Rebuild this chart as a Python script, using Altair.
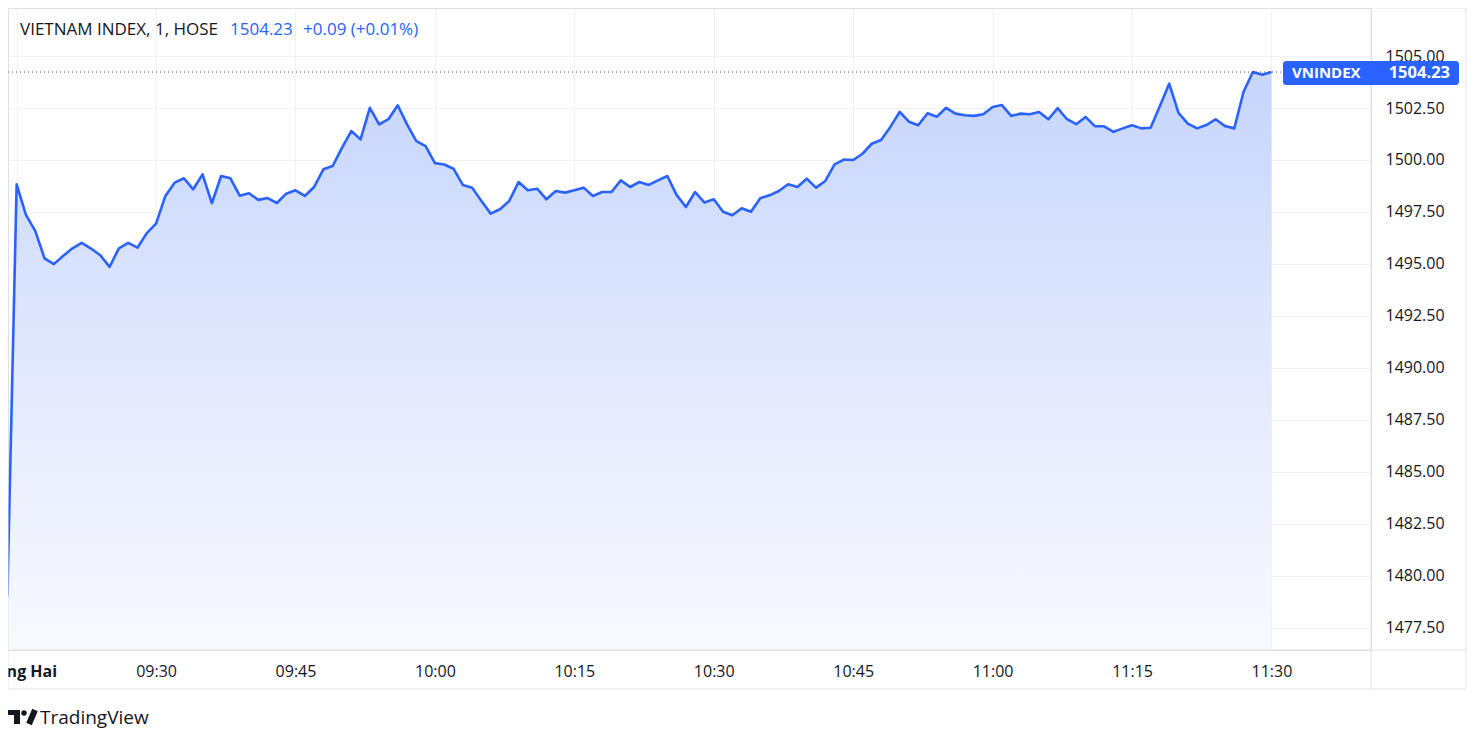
import json
import altair as alt
import pandas as pd

FONT = "Open Sans"
TEXT_COLOR = "#131722"
BLUE = "#2962ff"

# ---------------- data ----------------
start_minute = 9 * 60 + 14  # first 1-minute bar (09:14, pre-open print)
prices = [
    1479.00,
    1498.83, 1497.36, 1496.59, 1495.27, 1494.99, 1495.38, 1495.75, 1496.01, 1495.74, 1495.42,  # 09:15-09:24
    1494.86, 1495.75, 1496.01, 1495.78, 1496.48, 1496.94, 1498.27, 1498.91, 1499.12, 1498.59,  # 09:25-09:34
    1499.31, 1497.92, 1499.23, 1499.12, 1498.28, 1498.40, 1498.08, 1498.17, 1497.93, 1498.38,  # 09:35-09:44
    1498.54, 1498.27, 1498.70, 1499.55, 1499.71, 1500.58, 1501.39, 1500.99, 1502.51, 1501.71,  # 09:45-09:54
    1501.96, 1502.63, 1501.71, 1500.91, 1500.67, 1499.85, 1499.78, 1499.58, 1498.80, 1498.67,  # 09:55-10:04
    1498.03, 1497.42, 1497.63, 1498.03, 1498.94, 1498.54, 1498.62, 1498.11, 1498.51, 1498.43,  # 10:05-10:14
    1498.54, 1498.67, 1498.27, 1498.46, 1498.46, 1499.02, 1498.70, 1498.94, 1498.80, 1499.02,  # 10:15-10:24
    1499.23, 1498.32, 1497.74, 1498.46, 1497.95, 1498.11, 1497.51, 1497.34, 1497.68, 1497.51,  # 10:25-10:34
    1498.16, 1498.30, 1498.51, 1498.83, 1498.70, 1499.10, 1498.67, 1498.99, 1499.79, 1500.02,  # 10:35-10:44
    1500.00, 1500.30, 1500.78, 1500.96, 1501.59, 1502.31, 1501.84, 1501.67, 1502.25, 1502.08,  # 10:45-10:54
    1502.51, 1502.23, 1502.15, 1502.12, 1502.20, 1502.55, 1502.64, 1502.12, 1502.23, 1502.20,  # 10:55-11:04
    1502.31, 1501.96, 1502.49, 1501.96, 1501.72, 1502.07, 1501.63, 1501.62, 1501.35, 1501.52,  # 11:05-11:14
    1501.67, 1501.52, 1501.55, 1502.60, 1503.67, 1502.27, 1501.75, 1501.52, 1501.68, 1501.96,  # 11:15-11:24
    1501.63, 1501.52, 1503.28, 1504.23, 1504.10, 1504.23,                                      # 11:25-11:30
]
minutes = [start_minute + i for i in range(len(prices))]

tick_minutes = [555, 570, 585, 600, 615, 630, 645, 660, 675, 690]
tick_labels = ["Tháng Hai", "09:30", "09:45", "10:00", "10:15", "10:30", "10:45", "11:00", "11:15", "11:30"]
y_ticks = [1477.5, 1480.0, 1482.5, 1485.0, 1487.5, 1490.0, 1492.5, 1495.0, 1497.5, 1500.0, 1502.5, 1505.0]

header_title = "VIETNAM INDEX, 1, HOSE"
header_price = "1504.23"
header_change = "+0.09 (+0.01%)"
tag_name = "VNINDEX"
last_price = 1504.23
brand = "TradingView"

# ---------------- layout ----------------
W, H = 1363, 642
x_domain = [554.07, 700.71]
y_domain = [1476.43, 1507.31]

df = pd.DataFrame({"m": minutes, "v": prices})
last_df = pd.DataFrame({"v": [last_price], "name": [tag_name], "lbl": [f"{last_price:.2f}"]})
one = pd.DataFrame({"a": [0]})

label_expr = (
    json.dumps(tick_labels, ensure_ascii=False)
    + "[indexof(" + json.dumps(tick_minutes) + ", datum.value)]"
)

x_scale = alt.Scale(domain=x_domain, nice=False, zero=False)
y_scale = alt.Scale(domain=y_domain, nice=False, zero=False)

x_axis = alt.Axis(
    values=tick_minutes, labelExpr=label_expr, grid=True, gridColor="#f0f1f4",
    domain=False, ticks=False, tickSize=0, labelPadding=21, labelBaseline="middle",
    labelFont=FONT, labelFontSize=16, labelColor=TEXT_COLOR, labelFlush=False,
    labelOverlap=False, labelBound=False, title=None,
    labelFontWeight={"condition": {"test": "datum.value == 555", "value": "bold"}, "value": "normal"},
)
y_axis = alt.Axis(
    orient="right", values=y_ticks, format=".2f", grid=True, gridColor="#f0f1f4",
    domain=False, ticks=False, tickSize=0, labelPadding=14, labelAlign="left",
    labelBaseline="middle", labelFont=FONT, labelFontSize=16, labelColor=TEXT_COLOR,
    labelOverlap=False, title=None, labelFlush=False,
)

base = alt.Chart(df)

# area baseline = bottom of the price scale
area = base.transform_calculate(
    base=str(y_domain[0])
).mark_area(
    clip=True,
    opacity=1,
    line=False,
    fill=alt.Gradient(
        gradient="linear", x1=0, x2=0, y1=0, y2=1,
        stops=[
            alt.GradientStop(color="#c6d5fd", offset=0),
            alt.GradientStop(color="#dfe7fd", offset=0.45),
            alt.GradientStop(color="#f9faff", offset=1),
        ],
    ),
).encode(
    x=alt.X("m:Q", scale=x_scale, axis=x_axis),
    y=alt.Y("v:Q", scale=y_scale, axis=y_axis, stack=None),
    y2=alt.Y2("base:Q"),
)

line = base.mark_line(clip=True, color=BLUE, strokeWidth=2.6, strokeJoin="round").encode(
    x=alt.X("m:Q", scale=x_scale),
    y=alt.Y("v:Q", scale=y_scale),
)

price_line = alt.Chart(last_df).mark_rule(color="#3b4f8a", strokeDash=[1, 3], strokeWidth=1).encode(
    y=alt.Y("v:Q", scale=y_scale),
    x=alt.value(0),
    x2=alt.value(1275),
)

tag_rect = alt.Chart(last_df).mark_rect(color=BLUE, cornerRadius=3, yOffset=-11, y2Offset=13).encode(
    y=alt.Y("v:Q", scale=y_scale),
    y2=alt.Y2("v:Q"),
    x=alt.value(1275),
    x2=alt.value(1451),
)
tag_name_txt = alt.Chart(last_df).mark_text(
    align="left", baseline="middle", font=FONT, fontSize=15, fontWeight="bold", color="white", dy=1
).encode(y=alt.Y("v:Q", scale=y_scale), x=alt.value(1284), text="name:N")
tag_val_txt = alt.Chart(last_df).mark_text(
    align="right", baseline="middle", font=FONT, fontSize=16.5, fontWeight="bold", color="white", dy=1
).encode(y=alt.Y("v:Q", scale=y_scale), x=alt.value(1442), text="lbl:N")

frame = alt.Chart(one).mark_rect(fillOpacity=0, stroke="#e0e3eb", strokeWidth=1).encode(
    x=alt.value(0), x2=alt.value(1458), y=alt.value(0), y2=alt.value(681)
)
divider_v = alt.Chart(one).mark_rule(color="#e0e3eb").encode(
    x=alt.value(W), y=alt.value(0), y2=alt.value(681)
)
divider_h = alt.Chart(one).mark_rule(color="#e0e3eb").encode(
    y=alt.value(H), x=alt.value(0), x2=alt.value(1458)
)

def label(txt, x, y, color=TEXT_COLOR, size=15, weight="normal"):
    return alt.Chart(one).mark_text(
        align="left", baseline="middle", font=FONT, fontSize=size, fontWeight=weight, color=color
    ).encode(x=alt.value(x), y=alt.value(y), text=alt.value(txt))

h1 = label(header_title, 12, 22, size=17)
h2 = label(header_price, 222, 22, color=BLUE, size=17)
h3 = label(header_change, 295, 22, color=BLUE, size=17)
brand_txt = label(brand, 32, 710, size=19)

# TradingView logo glyph (T block, dot, slanted bar)
logo_bar = alt.Chart(one).mark_rect(color=TEXT_COLOR).encode(
    x=alt.value(-1), x2=alt.value(12), y=alt.value(702), y2=alt.value(707))
logo_stem = alt.Chart(one).mark_rect(color=TEXT_COLOR).encode(
    x=alt.value(6), x2=alt.value(12), y=alt.value(702), y2=alt.value(716))
logo_dot = alt.Chart(one).mark_point(filled=True, shape="circle", size=30, color=TEXT_COLOR, opacity=1).encode(
    x=alt.value(16), y=alt.value(705))
logo_slant = alt.Chart(one).mark_rule(color=TEXT_COLOR, strokeWidth=6, strokeCap="butt").encode(
    x=alt.value(21), y=alt.value(716), x2=alt.value(27), y2=alt.value(702))

chart = alt.layer(
    area, line, price_line, frame, divider_v, divider_h,
    tag_rect, tag_name_txt, tag_val_txt, h1, h2, h3, brand_txt,
    logo_bar, logo_stem, logo_dot, logo_slant,
).properties(
    width=W, height=H,
    autosize=alt.AutoSizeParams(type="none"),
    padding={"left": 0, "top": 0, "right": 102, "bottom": 80},
).configure_view(stroke=None).configure(background="white")

chart.save("out.html", embed_options={"renderer": "svg", "actions": False})
